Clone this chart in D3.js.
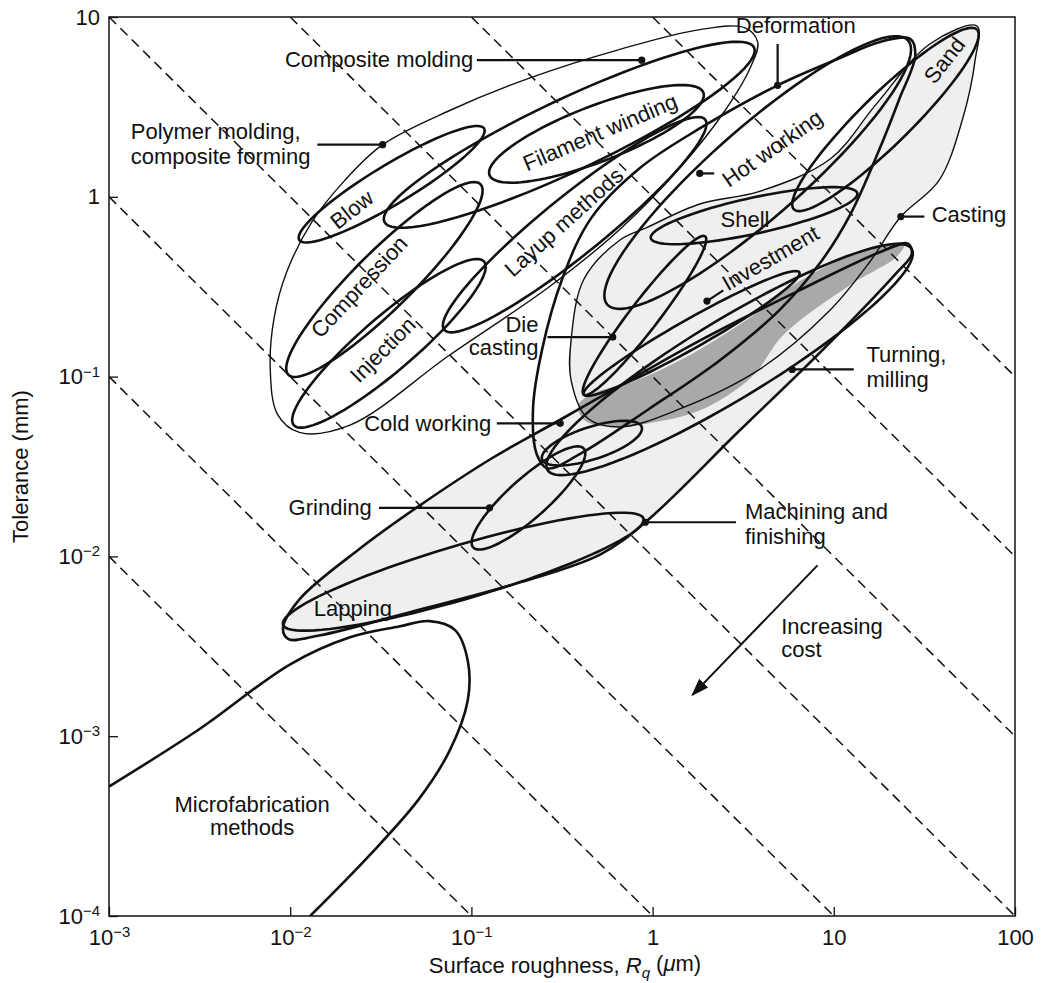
<!DOCTYPE html>
<html>
<head>
<meta charset="utf-8">
<script src="https://cdn.jsdelivr.net/npm/d3@7"></script>
<style>
  body { margin: 0; background: #fff; }
  text { font-family: "Liberation Sans", Arial, sans-serif; fill: #111; }
</style>
</head>
<body>
<div id="chart"></div>
<script>
// Every outline point in decades:
// [log10 surface roughness Rq (um), log10 tolerance (mm)]

const xTicks = [1e-3, 1e-2, 1e-1, 1, 10, 100];
const yTicks = [1e-4, 1e-3, 1e-2, 1e-1, 1, 10];

// dashed iso-cost lines: Rq * tolerance = constant
const costProducts = [1e-5, 1e-4, 1e-3, 1e-2, 1e-1, 1, 10];

// process bubbles: low tip, high tip, half width (decades)
const processNames = ["Composite molding", "Filament winding", "Blow", "Compression", "Injection",
  "Layup methods", "Hot working", "Cold working", "Sand", "Shell", "Investment", "Die casting",
  "Turning, milling", "Grinding", "Lapping"];
const lowTip = [[-1.48, -0.14], [-0.90, 0.12], [-1.95, -0.24], [-2.01, -0.99], [-1.98, -1.27],
  [-1.15, -0.74], [-0.25, -0.60], [-0.61, -1.46], [0.78, -0.07], [-0.01, -0.23], [-0.38, -1.10], [-0.38, -1.10],
  [-0.58, -1.52], [-0.99, -1.95], [-2.04, -2.38]];
const highTip = [[0.56, 0.83], [0.28, 0.58], [-0.93, 0.38], [-0.95, 0.07], [-0.93, -0.36],
  [0.29, 0.43], [1.41, 0.87], [-0.06, -1.28], [1.79, 0.93], [1.13, 0.02], [0.81, -0.42], [0.29, -0.22],
  [1.43, -0.29], [-0.38, -1.40], [-0.05, -1.79]];
const halfWidth = [0.20, 0.155, 0.11, 0.16, 0.15, 0.165, 0.25, 0.09, 0.14, 0.10, 0.08, 0.08, 0.22, 0.11, 0.15];

// family envelopes, traced
const polymerEnvelope = [[0.58, 0.86], [0.54, 0.72], [0.40, 0.48], [0.15, 0.16], [-0.18, -0.18], [-0.57, -0.50],
  [-1.12, -0.88], [-1.67, -1.27], [-1.95, -1.31], [-2.07, -1.21], [-2.11, -0.96], [-2.09, -0.68], [-2.02, -0.42],
  [-1.88, -0.14], [-1.70, 0.09], [-1.49, 0.29], [-1.12, 0.48], [-0.68, 0.66], [-0.18, 0.82], [0.26, 0.93], [0.51, 0.94]];
const deformationEnvelope = [[1.42, 0.88], [1.25, 0.86], [1.03, 0.77], [0.69, 0.62], [0.26, 0.38], [-0.07, 0.16],
  [-0.34, -0.12], [-0.50, -0.46], [-0.61, -0.85], [-0.66, -1.18], [-0.64, -1.43], [-0.58, -1.51], [-0.40, -1.43],
  [-0.02, -1.18], [0.37, -0.91], [0.70, -0.63], [0.93, -0.36], [1.09, -0.10], [1.25, 0.26], [1.36, 0.54], [1.45, 0.79]];
const castingEnvelope = [[1.79, 0.95], [1.78, 0.76], [1.71, 0.43], [1.58, 0.09], [1.37, -0.11], [1.20, -0.36],
  [0.98, -0.63], [0.59, -0.96], [0.15, -1.18], [-0.18, -1.28], [-0.36, -1.23], [-0.45, -1.02], [-0.45, -0.80],
  [-0.38, -0.46], [-0.18, -0.24], [-0.03, -0.17], [0.26, -0.04], [0.59, 0.03], [0.98, 0.21], [1.23, 0.51], [1.53, 0.85]];
const machiningEnvelope = [[-2.04, -2.40], [-1.95, -2.24], [-1.62, -1.96], [-1.29, -1.72], [-0.88, -1.45],
  [-0.51, -1.24], [-0.18, -1.05], [0.26, -0.80], [0.81, -0.52], [1.25, -0.31], [1.41, -0.26], [1.43, -0.32],
  [1.34, -0.43], [0.94, -0.85], [0.48, -1.30], [-0.04, -1.81], [-0.29, -1.99], [-0.75, -2.15], [-1.30, -2.30],
  [-1.84, -2.44], [-2.01, -2.46]];
const precisionZone = [[-0.41, -1.16], [-0.32, -1.09], [-0.11, -1.03], [0.17, -0.90], [0.54, -0.67], [0.81, -0.47],
  [1.18, -0.29], [1.39, -0.26], [1.35, -0.33], [1.09, -0.49], [0.72, -0.77], [0.55, -1.00], [0.30, -1.17],
  [0.08, -1.24], [-0.24, -1.28], [-0.38, -1.24]];
const microfabCurve = [[-3.00, -3.28], [-2.50, -2.96], [-2.00, -2.60], [-1.67, -2.45], [-1.40, -2.39], [-1.23, -2.36],
  [-1.09, -2.41], [-1.02, -2.58], [-1.02, -2.80], [-1.12, -3.08], [-1.29, -3.35], [-1.56, -3.66], [-1.89, -4.00]];

// leader lines: dot on the outline, free end near the label
const leaderDots = [[-0.06, 0.76], [-1.49, 0.29], [0.69, 0.62], [0.26, 0.13], [1.37, -0.11], [0.30, -0.58],
  [-0.22, -0.78], [-0.51, -1.26], [0.77, -0.96], [-0.90, -1.73], [-0.04, -1.81]];
const leaderEnds = [[-0.97, 0.76], [-1.85, 0.29], [0.69, 0.85], [0.34, 0.13], [1.50, -0.11], [0.39, -0.52],
  [-0.58, -0.78], [-0.86, -1.26], [1.11, -0.96], [-1.51, -1.73], [0.46, -1.81]];

const costArrow = [[0.91, -2.05], [0.22, -2.77]];

// labels: text, anchor point (decades), text-anchor
const flatLabels = [
  ["Composite molding", [-0.99, 0.72], "end"],
  ["Polymer molding,", [-2.88, 0.32], "start"],
  ["composite forming", [-2.88, 0.18], "start"],
  ["Deformation", [0.79, 0.91], "middle"],
  ["Casting", [1.54, -0.14], "start"],
  ["Shell", [0.51, -0.17], "middle"],
  ["Die", [-0.63, -0.75], "end"],
  ["casting", [-0.63, -0.88], "end"],
  ["Cold working", [-0.89, -1.30], "end"],
  ["Turning,", [1.18, -0.92], "start"],
  ["milling", [1.18, -1.06], "start"],
  ["Grinding", [-1.55, -1.77], "end"],
  ["Machining and", [0.51, -1.79], "start"],
  ["finishing", [0.51, -1.93], "start"],
  ["Lapping", [-1.87, -2.33], "start"],
  ["Increasing", [0.71, -2.43], "start"],
  ["cost", [0.71, -2.56], "start"],
  ["Microfabrication", [-2.21, -3.42], "middle"],
  ["methods", [-2.21, -3.55], "middle"]
];
// tilted labels: text, centre (decades), angle (deg)
const tiltedLabels = [
  ["Blow", [-1.66, -0.07], -38],
  ["Compression", [-1.62, -0.50], -47],
  ["Injection", [-1.49, -0.85], -45],
  ["Layup methods", [-0.49, -0.14], -42],
  ["Filament winding", [-0.29, 0.36], -23],
  ["Hot working", [0.66, 0.27], -35],
  ["Investment", [0.65, -0.34], -30],
  ["Sand", [1.61, 0.76], -52]
];

const width = 1046, height = 983;
const x = d3.scaleLog().domain([1e-3, 100]).range([109, 1015]);
const y = d3.scaleLog().domain([1e-4, 10]).range([916, 17]);
const P = d => [x(10 ** d[0]), y(10 ** d[1])];

const svg = d3.select("#chart").append("svg")
  .attr("width", width).attr("height", height);

const [x0, x1] = x.range(), [y1, y0] = y.range();
const defs = svg.append("defs");
defs.append("clipPath").attr("id", "plot").append("rect")
  .attr("x", x0).attr("y", y0).attr("width", x1 - x0).attr("height", y1 - y0);
defs.append("marker").attr("id", "head").attr("viewBox", "0 0 10 10")
  .attr("refX", 9).attr("refY", 5).attr("markerWidth", 9).attr("markerHeight", 9)
  .attr("orient", "auto-start-reverse")
  .append("path").attr("d", "M0,1.5 L10,5 L0,8.5 Z").attr("fill", "#111");

const plot = svg.append("g").attr("clip-path", "url(#plot)");

// ellipse in decade space from two tips and a half width
function bubble(a, b, w) {
  const cx = (a[0] + b[0]) / 2, cy = (a[1] + b[1]) / 2;
  const ux = (b[0] - a[0]) / 2, uy = (b[1] - a[1]) / 2;
  const L = Math.hypot(ux, uy), nx = -uy / L * w, ny = ux / L * w;
  return d3.range(90).map(i => {
    const t = i / 90 * 2 * Math.PI;
    return [cx + ux * Math.cos(t) + nx * Math.sin(t), cy + uy * Math.cos(t) + ny * Math.sin(t)];
  });
}

const closedSmooth = d3.line().curve(d3.curveCatmullRomClosed.alpha(0.5));
const openSmooth = d3.line().curve(d3.curveCatmullRom.alpha(0.5));
const closedLin = d3.line().curve(d3.curveLinearClosed);

// shaded areas
plot.selectAll(".light").data([castingEnvelope, machiningEnvelope]).join("path")
  .attr("d", d => closedSmooth(d.map(P)))
  .attr("fill", "#efefef").attr("stroke", "none");
plot.append("path").attr("d", closedSmooth(precisionZone.map(P)))
  .attr("fill", "#a9a9a9").attr("stroke", "none");

// iso-cost dashed lines
plot.selectAll(".cost").data(costProducts).join("line")
  .attr("x1", p => x(Math.max(1e-3, p / 10)))
  .attr("y1", p => y(p / Math.max(1e-3, p / 10)))
  .attr("x2", p => x(Math.min(100, p / 1e-4)))
  .attr("y2", p => y(p / Math.min(100, p / 1e-4)))
  .attr("stroke", "#111").attr("stroke-width", 1.5).attr("stroke-dasharray", "10,6");

// thin envelopes
plot.selectAll(".thin").data([polymerEnvelope, castingEnvelope]).join("path")
  .attr("d", d => closedSmooth(d.map(P)))
  .attr("fill", "none").attr("stroke", "#111").attr("stroke-width", 1.4);

// thick envelopes
plot.selectAll(".thick").data([deformationEnvelope, machiningEnvelope]).join("path")
  .attr("d", d => closedSmooth(d.map(P)))
  .attr("fill", "none").attr("stroke", "#111").attr("stroke-width", 2.6);

// process bubbles
plot.selectAll(".bubble").data(processNames).join("path")
  .attr("d", (n, i) => closedLin(bubble(lowTip[i], highTip[i], halfWidth[i]).map(P)))
  .attr("fill", "none").attr("stroke", "#111").attr("stroke-width", 2.6);

// microfabrication boundary
plot.append("path").attr("d", openSmooth(microfabCurve.map(P)))
  .attr("fill", "none").attr("stroke", "#111").attr("stroke-width", 2.6);

// leaders
svg.selectAll(".leader").data(leaderDots).join("line")
  .attr("x1", d => P(d)[0]).attr("y1", d => P(d)[1])
  .attr("x2", (d, i) => P(leaderEnds[i])[0]).attr("y2", (d, i) => P(leaderEnds[i])[1])
  .attr("stroke", "#111").attr("stroke-width", 2.2);
svg.selectAll(".dot").data(leaderDots).join("circle")
  .attr("cx", d => P(d)[0]).attr("cy", d => P(d)[1]).attr("r", 3.6).attr("fill", "#111");

// cost arrow
svg.append("line")
  .attr("x1", P(costArrow[0])[0]).attr("y1", P(costArrow[0])[1])
  .attr("x2", P(costArrow[1])[0]).attr("y2", P(costArrow[1])[1])
  .attr("stroke", "#111").attr("stroke-width", 2).attr("marker-end", "url(#head)");

// labels
svg.selectAll(".flat").data(flatLabels).join("text")
  .attr("x", d => P(d[1])[0]).attr("y", d => P(d[1])[1])
  .attr("text-anchor", d => d[2]).attr("font-size", 22).text(d => d[0]);
svg.selectAll(".tilt").data(tiltedLabels).join("text")
  .attr("transform", d => `translate(${P(d[1])}) rotate(${d[2]})`)
  .attr("text-anchor", "middle").attr("dy", "0.35em").attr("font-size", 22).text(d => d[0]);

// axes
function powerLabel(sel) {
  sel.each(function (v) {
    const e = Math.round(Math.log10(v));
    const t = d3.select(this).text(null);
    if (e >= 0) { t.text(String(v)); return; }
    t.append("tspan").text("10");
    t.append("tspan").attr("dy", "-0.5em").attr("font-size", 15).text("\u2212" + (-e));
  });
}
const gx = svg.append("g").attr("transform", `translate(0,${y1})`)
  .call(d3.axisBottom(x).tickValues(xTicks).tickSizeInner(-9).tickSizeOuter(0).tickPadding(13));
const gy = svg.append("g").attr("transform", `translate(${x0},0)`)
  .call(d3.axisLeft(y).tickValues(yTicks).tickSizeInner(-9).tickSizeOuter(0).tickPadding(9));
[gx, gy].forEach(g => {
  g.select(".domain").remove();
  g.selectAll("line").attr("stroke", "#111").attr("stroke-width", 1.3);
  g.selectAll("text").attr("font-size", 22).attr("fill", "#111")
    .style("font-family", '"Liberation Sans", Arial, sans-serif').call(powerLabel);
});

svg.append("rect").attr("x", x0).attr("y", y0).attr("width", x1 - x0).attr("height", y1 - y0)
  .attr("fill", "none").attr("stroke", "#111").attr("stroke-width", 1.5);

svg.append("text").attr("transform", `translate(28,${(y0 + y1) / 2}) rotate(-90)`)
  .attr("text-anchor", "middle").attr("font-size", 22).text("Tolerance (mm)");

const xt = svg.append("text").attr("x", (x0 + x1) / 2 + 3).attr("y", 973)
  .attr("text-anchor", "middle").attr("font-size", 22);
xt.append("tspan").text("Surface roughness, ");
xt.append("tspan").attr("font-style", "italic").text("R");
xt.append("tspan").attr("font-style", "italic").attr("font-size", 15).attr("dy", "0.3em").text("q");
xt.append("tspan").attr("dy", "-0.3em").text(" (");
xt.append("tspan").attr("font-style", "italic").text("\u03bc");
xt.append("tspan").text("m)");
</script>
</body>
</html>
